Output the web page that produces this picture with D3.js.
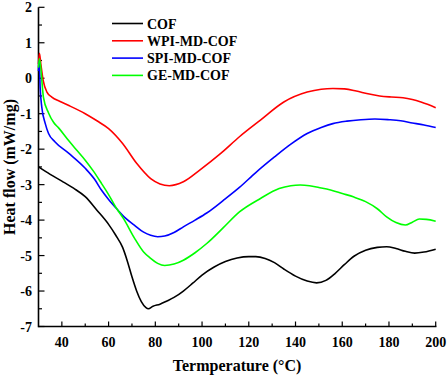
<!DOCTYPE html>
<html><head><meta charset="utf-8">
<script src="https://cdn.jsdelivr.net/npm/d3@7"></script>
<style>body{margin:0;background:#fff}svg{display:block}text{font-family:"Liberation Serif","Times New Roman",serif;font-weight:bold}</style>
</head><body>
<svg id="chart" width="447" height="376"></svg>
<script>
const seriesNames = ["COF","WPI-MD-COF","SPI-MD-COF","GE-MD-COF"];
const seriesColors = ["#000000","#ff0000","#0000ff","#00ff00"];
const xTicks = [40,60,80,100,120,140,160,180,200];
const yTicks = [-7,-6,-5,-4,-3,-2,-1,0,1,2];
const cofData = [[30,-2.5],[35,-2.71],[40,-2.9],[45,-3.1],[50,-3.34],[55,-3.72],[60,-4.12],[63,-4.42],[66,-4.77],[68,-5.15],[70,-5.6],[72,-6.0],[74,-6.3],[76,-6.47],[77,-6.5],[79,-6.43],[82,-6.37],[85,-6.28],[88,-6.18],[92,-6.0],[96,-5.78],[100,-5.55],[105,-5.33],[110,-5.17],[115,-5.07],[120,-5.03],[123,-5.03],[127,-5.08],[131,-5.2],[135,-5.38],[140,-5.58],[145,-5.72],[149,-5.77],[153,-5.7],[157,-5.5],[161,-5.25],[165,-5.02],[170,-4.85],[175,-4.77],[179,-4.75],[183,-4.8],[187,-4.88],[191,-4.93],[195,-4.9],[200,-4.82]];
const wpiData = [[30,0.4],[30.4,0.7],[31,0.4],[32,-0.06],[33.6,-0.39],[35.7,-0.53],[39,-0.65],[43,-0.77],[50,-1.0],[55,-1.2],[60,-1.42],[66,-1.84],[72,-2.4],[78,-2.83],[82,-2.98],[86,-3.03],[92,-2.92],[99,-2.59],[108,-2.12],[116,-1.65],[125,-1.18],[135,-0.67],[145,-0.39],[151,-0.31],[156,-0.29],[161,-0.3],[166,-0.36],[171,-0.44],[176,-0.5],[181,-0.53],[186,-0.55],[190,-0.6],[194,-0.68],[200,-0.83]];
const spiData = [[30,0.2],[30.3,0.5],[30.7,-0.25],[31.4,-0.81],[32.9,-1.28],[34.3,-1.56],[37,-1.79],[43,-2.12],[50,-2.54],[54,-2.85],[57,-3.16],[60,-3.42],[64,-3.72],[67,-3.93],[71,-4.14],[75,-4.34],[78,-4.43],[81,-4.47],[84,-4.45],[88,-4.35],[92,-4.19],[97,-4.0],[102,-3.8],[109,-3.45],[116,-3.08],[123,-2.66],[131,-2.22],[138,-1.86],[145,-1.56],[151,-1.39],[156,-1.28],[162,-1.21],[168,-1.17],[174,-1.15],[180,-1.17],[185,-1.2],[190,-1.26],[195,-1.32],[200,-1.39]];
const geData = [[30,0.3],[30.4,0.55],[32.1,-0.53],[34.3,-0.98],[36.5,-1.25],[38.6,-1.4],[42.8,-1.75],[46,-2.0],[50,-2.31],[53.5,-2.62],[57,-2.97],[60,-3.28],[63,-3.63],[66.4,-3.96],[71,-4.5],[75,-4.9],[78,-5.08],[81,-5.22],[84,-5.28],[88,-5.24],[92,-5.13],[97,-4.92],[102,-4.66],[109,-4.22],[116,-3.77],[125,-3.39],[133,-3.11],[138,-3.03],[142,-3.01],[146,-3.03],[150,-3.08],[155,-3.15],[160,-3.25],[165,-3.35],[170,-3.48],[175,-3.68],[179,-3.91],[183,-4.07],[187,-4.14],[190,-4.06],[193,-3.97],[196,-3.98],[200,-4.03]];
const allData = [cofData,wpiData,spiData,geData];

const svg = d3.select("#chart");
const x = d3.scaleLinear().domain([30,200]).range([38.5,435.7]);
const y = d3.scaleLinear().domain([-7,2]).range([326.5,7.3]);

const line = d3.line().x(d=>x(d[0])).y(d=>y(d[1])).curve(d3.curveMonotoneX);

const gx = svg.append("g");
gx.append("line").attr("x1",x(30)).attr("x2",x(200)+0.75).attr("y1",y(-7)).attr("y2",y(-7)).attr("stroke","#000").attr("stroke-width",1.6);
d3.range(40,201,10).forEach(v=>{
  const major = v%20===0;
  gx.append("line").attr("x1",x(v)).attr("x2",x(v)).attr("y1",y(-7)).attr("y2",y(-7)-(major?5:3)).attr("stroke","#000").attr("stroke-width",1.2);
});
gx.selectAll("text.xt").data(xTicks).enter().append("text").attr("class","xt")
  .attr("x",d=>x(d)).attr("y",347).attr("text-anchor","middle").attr("font-size",14).text(d=>d);

const gy = svg.append("g");
gy.append("line").attr("x1",x(30)).attr("x2",x(30)).attr("y1",y(-7)+0.8).attr("y2",y(2)).attr("stroke","#000").attr("stroke-width",1.6);
d3.range(-7,2.01,0.5).forEach(v=>{
  const major = Math.abs(v-Math.round(v))<1e-6;
  gy.append("line").attr("x1",x(30)).attr("x2",x(30)+(major?6:3.5)).attr("y1",y(v)).attr("y2",y(v)).attr("stroke","#000").attr("stroke-width",1.2);
});
gy.selectAll("text.yt").data(yTicks).enter().append("text").attr("class","yt")
  .attr("x",32).attr("y",d=>y(d)+5).attr("text-anchor","end").attr("font-size",14).text(d=>d);

svg.append("text").attr("x",x(115)).attr("y",371).attr("text-anchor","middle").attr("font-size",16).text("Termperature (°C)");
svg.append("text").attr("transform","translate(15,167) rotate(-90)").attr("text-anchor","middle").attr("font-size",16).text("Heat flow (mW/mg)");

allData.forEach((d,i)=>{
  svg.append("path").datum(d).attr("d",line).attr("fill","none").attr("stroke",seriesColors[i]).attr("stroke-width",1.6);
});

const lg = svg.append("g");
seriesNames.forEach((n,i)=>{
  const yy = 23.5 + i*17.3;
  lg.append("line").attr("x1",112).attr("x2",143).attr("y1",yy).attr("y2",yy).attr("stroke",seriesColors[i]).attr("stroke-width",1.6);
  lg.append("text").attr("x",147).attr("y",yy+5).attr("font-size",14).text(n);
});
</script>
</body></html>
